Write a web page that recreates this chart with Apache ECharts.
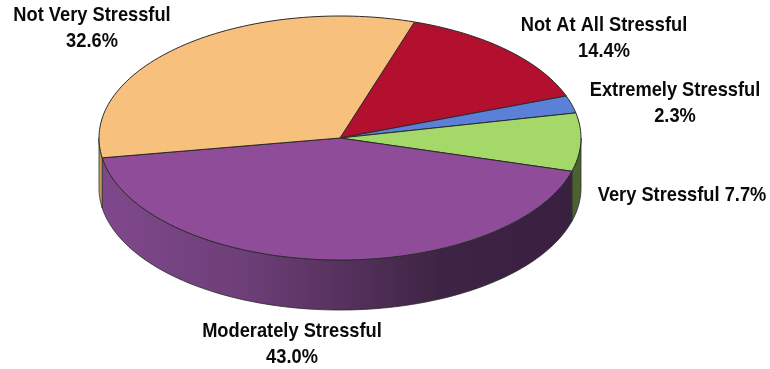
<!DOCTYPE html>
<html><head><meta charset="utf-8">
<style>html,body{margin:0;padding:0;background:#fff}#c{width:770px;height:369px}</style>
<script src="https://cdn.jsdelivr.net/npm/echarts@6/dist/echarts.min.js"></script>
</head><body><div id="c"></div>
<script>
const categories = ['Not At All Stressful','Extremely Stressful','Very Stressful','Moderately Stressful','Not Very Stressful'];
const values = [14.4, 2.3, 7.7, 43.0, 32.6];
const topColors = ['#B3102F','#5A80D8','#A4D868','#8F4C98','#F7C07C'];
const labelText = [
  'Not At All Stressful\n14.4%',
  'Extremely Stressful\n2.3%',
  'Very Stressful 7.7%',
  'Moderately Stressful\n43.0%',
  'Not Very Stressful\n32.6%'
];
// label centres in pixels
const labelPos = [[604,38],[675,103],[682,195],[292,344],[92,28]];
const START = 72, DEPTH = 0.41, STEP = 1.5;
const total = values.reduce((a,b)=>a+b,0);
const wallFill = [
  '#7a4a20','#2f4a80',
  {type:'linear',x:0,y:0,x2:1,y2:0,colorStops:[{offset:0,color:'#4c6230'},{offset:1,color:'#4c6230'}]},
  {type:'linear',x:0,y:0,x2:1,y2:0,colorStops:[{offset:0,color:'#80488C'},{offset:0.3,color:'#6E3F78'},{offset:0.72,color:'#3E2444'},{offset:1,color:'#3A2040'}]},
  '#C99B5E'
];
function rad(d){return d*Math.PI/180;}
function arc(a0,a1,dy,api){ // a0 > a1, clockwise on screen
  const pts=[]; const n=Math.max(2,Math.ceil((a0-a1)/STEP));
  for(let i=0;i<=n;i++){const t=rad(a0+(a1-a0)*i/n);pts.push(api.coord([Math.cos(t),Math.sin(t)-dy]));}
  return pts;
}
function renderItem(params,api){
  const i=params.dataIndex;
  let before=0; for(let k=0;k<i;k++) before+=values[k];
  const a0=START-before/total*360, a1=a0-api.value(0)/total*360;
  const children=[];
  const stroke={stroke:'#2b2b2b',lineWidth:1,lineJoin:'round'};
  // top face
  children.push({type:'polygon',z2:10,shape:{points:[api.coord([0,0])].concat(arc(a0,a1,0,api))},style:Object.assign({fill:topColors[i]},stroke)});
  // side wall: the part of the slice facing the viewer
  [[0,-180],[-360,-540]].forEach(r=>{
    const w0=Math.min(a0,r[0]), w1=Math.max(a1,r[1]);
    if(w0>w1){
      const up=arc(w0,w1,0,api), low=arc(w0,w1,DEPTH,api).reverse();
      children.push({type:'polygon',z2:1,shape:{points:up.concat(low)},style:Object.assign({fill:wallFill[i]},stroke,{stroke:'#2b2b2b',lineWidth:0.8})});
    }
  });
  const lp=labelPos[i];
  children.push({type:'text',z2:20,x:lp[0],y:lp[1],scaleX:0.87,
    style:{text:labelText[i],x:0,y:0,align:'center',verticalAlign:'middle',lineHeight:26,
      font:'bold 21px "Liberation Sans", Arial, sans-serif',fill:'#0a0a0a'}});
  return {type:'group',children};
}
const chart=echarts.init(document.getElementById('c'),null,{renderer:'canvas'});
chart.setOption({
  animation:false,
  backgroundColor:'#fff',
  grid:{left:99,width:482,top:16,height:244},
  xAxis:{type:'value',min:-1,max:1,show:false},
  yAxis:{type:'value',min:-1,max:1,show:false},
  series:[{type:'custom',coordinateSystem:'cartesian2d',silent:true,clip:false,
    encode:{x:0,y:0},renderItem,data:values.map((v,i)=>({name:categories[i],value:[v]}))}]
});
</script></body></html>
